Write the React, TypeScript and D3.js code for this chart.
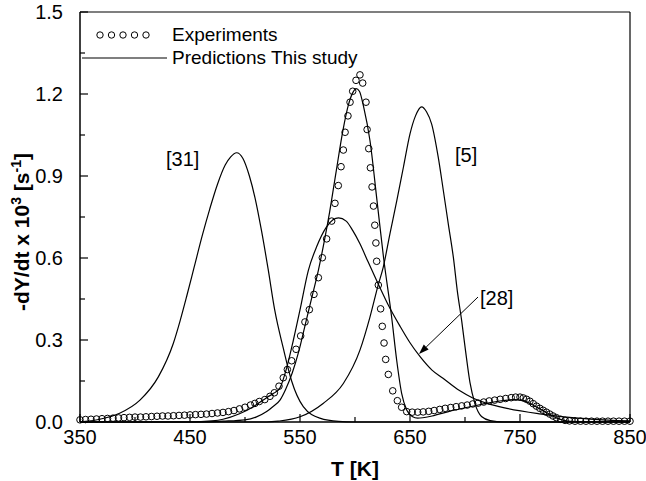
import React from 'react';
import * as d3 from 'd3';

// ---- axis ticks ----
const xTicks = [350, 450, 550, 650, 750, 850];
const xMinor = [400, 500, 600, 700, 800];
const yTicks = [0.0, 0.3, 0.6, 0.9, 1.2, 1.5];
const yMinor = [0.15, 0.45, 0.75, 1.05, 1.35];

// ---- experiments (circles) ----
const expT = [
  350, 355, 360, 365, 370, 375, 380, 385, 390, 395, 400, 405, 410, 415, 420, 425, 430, 435, 440, 445,
  450, 455, 460, 465, 470, 475, 480, 485, 490, 495, 500, 505, 509, 513, 518, 522.7, 526.7, 530.9, 534.8, 538.5,
  542.4, 546.4, 550.6, 554.5, 558.5, 562.7, 566.7, 570.3, 574.2, 578.8, 581.8, 584.8, 587.3, 589.4, 591, 593.6,
  595.5, 597.9, 600.9, 604.5, 607, 610, 611, 612.5, 614, 615.5, 616.8, 618, 619, 619.7, 621.2, 623.3, 624.8,
  626.4, 627.9, 630.3, 634.3, 638.5, 642.4, 647, 652, 657, 662, 667, 672, 677, 682, 687, 692, 697, 702, 707,
  712, 717, 722, 727, 732, 737, 742, 746, 750, 753, 756, 759, 762, 765, 768, 771, 774, 777, 780, 783, 787,
  791, 795, 800, 805, 810, 815, 820, 825, 830, 835, 840, 845, 850,
];
const expV = [
  0.008, 0.009, 0.01, 0.011, 0.012, 0.013, 0.014, 0.015, 0.016, 0.017, 0.018, 0.018, 0.019, 0.02, 0.021, 0.022,
  0.022, 0.023, 0.024, 0.025, 0.026, 0.027, 0.028, 0.029, 0.031, 0.033, 0.035, 0.038, 0.042, 0.048, 0.054, 0.062,
  0.068, 0.075, 0.082, 0.094, 0.107, 0.131, 0.162, 0.192, 0.224, 0.266, 0.315, 0.366, 0.411, 0.467, 0.528, 0.601,
  0.67, 0.735, 0.8, 0.865, 0.934, 0.995, 1.06, 1.12, 1.17, 1.21, 1.25, 1.27, 1.24, 1.17, 1.07, 1.0, 0.93, 0.86,
  0.79, 0.72, 0.655, 0.588, 0.501, 0.414, 0.35, 0.289, 0.229, 0.174, 0.114, 0.078, 0.054, 0.038, 0.036, 0.036,
  0.037, 0.039, 0.042, 0.046, 0.05, 0.053, 0.056, 0.059, 0.062, 0.066, 0.069, 0.073, 0.077, 0.08, 0.083, 0.086,
  0.089, 0.091, 0.091, 0.088, 0.083, 0.076, 0.067, 0.058, 0.05, 0.043, 0.036, 0.029, 0.022, 0.016, 0.01, 0.006,
  0.004, 0.003, 0.003, 0.003, 0.003, 0.003, 0.003, 0.003, 0.003, 0.003, 0.003, 0.003, 0.003,
];

// ---- predictions: this study ----
const studyT = [
  350, 460, 480, 500, 510, 519.7, 525, 531.8, 537, 543, 549, 555, 561, 566.7, 572, 577, 583, 589, 594, 598, 601,
  604, 608, 613.6, 620, 626, 633.3, 637.9, 642.4, 647, 652, 657, 670, 685, 700, 715, 730, 745, 752, 758, 765, 774,
  783, 792, 800, 850,
];
const studyV = [
  0, 0, 0.003, 0.008, 0.018, 0.038, 0.055, 0.08, 0.12, 0.18, 0.26, 0.36, 0.46, 0.555, 0.66, 0.77, 0.92, 1.066,
  1.16, 1.205, 1.22, 1.21, 1.15, 1.03, 0.81, 0.6, 0.384, 0.226, 0.105, 0.044, 0.02, 0.014, 0.022, 0.038, 0.052,
  0.065, 0.076, 0.082, 0.079, 0.07, 0.055, 0.035, 0.015, 0.004, 0.001, 0,
];

// ---- reference [31] ----
const r31T = [
  350, 355, 368, 386, 404.5, 421.2, 434.8, 441, 447, 454, 461, 468, 475, 482, 487, 492.4, 498, 504, 509, 515, 521,
  527, 534.8, 542.4, 553, 568, 585, 600, 850,
];
const r31V = [
  0, 0.002, 0.01, 0.032, 0.08, 0.165, 0.287, 0.37, 0.46, 0.57, 0.68, 0.78, 0.87, 0.94, 0.97, 0.985, 0.965, 0.9,
  0.822, 0.7, 0.56, 0.41, 0.27, 0.15, 0.056, 0.014, 0.002, 0, 0,
];

// ---- reference [28] ----
const r28T = [
  350, 450, 470, 480, 495, 507.6, 520, 526, 531.8, 538, 544, 550, 557.6, 565, 574, 580, 585, 592, 598, 604.5, 612,
  621, 630, 641, 650, 659, 670, 680, 695, 707, 720, 738, 768, 800, 830, 850,
];
const r28V = [
  0, 0, 0.004, 0.01, 0.03, 0.056, 0.09, 0.105, 0.125, 0.2, 0.3, 0.41, 0.555, 0.64, 0.713, 0.74, 0.747, 0.735, 0.7,
  0.652, 0.585, 0.506, 0.43, 0.35, 0.29, 0.24, 0.19, 0.16, 0.115, 0.088, 0.068, 0.05, 0.03, 0.015, 0.007, 0.004,
];

// ---- reference [5] ----
const r5T = [
  350, 520, 530, 550, 571, 589.4, 604.5, 613.6, 621, 625.7, 631.8, 638, 644, 650, 655, 660.6, 665, 669.7, 675.7,
  680.3, 684.8, 689.4, 693, 697, 700.5, 704.5, 709, 715, 723, 735, 850,
];
const r5V = [
  0, 0, 0.003, 0.019, 0.068, 0.141, 0.263, 0.384, 0.5, 0.567, 0.689, 0.81, 0.932, 1.054, 1.12, 1.153, 1.135, 1.09,
  0.968, 0.847, 0.725, 0.603, 0.48, 0.37, 0.26, 0.145, 0.068, 0.02, 0.005, 0, 0,
];

const W = 646;
const H = 481;
const L = 80;
const R = 630;
const T = 12;
const B = 422;

export default function App() {
  const x = d3.scaleLinear().domain([350, 850]).range([L, R]);
  const y = d3.scaleLinear().domain([0, 1.5]).range([B, T]);
  const line = d3
    .line<[number, number]>()
    .x((d) => x(d[0]))
    .y((d) => y(d[1]))
    .curve(d3.curveMonotoneX);
  const zip = (a: number[], b: number[]) => a.map((v, i) => [v, b[i]] as [number, number]);
  const curves = [
    zip(studyT, studyV),
    zip(r31T, r31V),
    zip(r28T, r28V),
    zip(r5T, r5V),
  ];
  const exp = zip(expT, expV);
  const font = 'Liberation Sans, Arial, sans-serif';

  // arrow
  const ax1 = 478, ay1 = 297, ax2 = 419, ay2 = 354;
  const ang = Math.atan2(ay2 - ay1, ax2 - ax1);
  const hl = 10, hw = 3.5;
  const bx = ax2 - hl * Math.cos(ang), by = ay2 - hl * Math.sin(ang);
  const head = `M${ax2},${ay2} L${bx + hw * Math.sin(ang)},${by - hw * Math.cos(ang)} L${bx - hw * Math.sin(ang)},${by + hw * Math.cos(ang)} Z`;

  const legendCircles = [100, 111.5, 123, 134.5, 146];

  return (
    <svg width={W} height={H} style={{ position: 'absolute', left: 0, top: 0, background: '#fff' }} fontFamily={font}>
      <rect x={0} y={0} width={W} height={H} fill="#fff" />
      {/* frame */}
      <line x1={L} y1={T} x2={R} y2={T} stroke="#000" strokeWidth={1.2} />
      <line x1={R} y1={T} x2={R} y2={B} stroke="#000" strokeWidth={1.2} />
      <line x1={L} y1={B} x2={R} y2={B} stroke="#000" strokeWidth={1.5} />
      <line x1={L} y1={T} x2={L} y2={B} stroke="#000" strokeWidth={1.5} />
      {/* x ticks */}
      {xTicks.map((t) => (
        <g key={'xt' + t}>
          <line x1={x(t)} x2={x(t)} y1={B} y2={B - 8} stroke="#000" strokeWidth={1.2} />
          <text x={x(t)} y={444} fontSize={20} textAnchor="middle">{t}</text>
        </g>
      ))}
      {xMinor.map((t) => (
        <line key={'xm' + t} x1={x(t)} x2={x(t)} y1={B} y2={B - 5} stroke="#000" strokeWidth={1.2} />
      ))}
      {/* y ticks */}
      {yTicks.map((t) => (
        <g key={'yt' + t}>
          <line x1={L} x2={L + 8} y1={y(t)} y2={y(t)} stroke="#000" strokeWidth={1.2} />
          <text x={63} y={y(t) + 7} fontSize={20} textAnchor="end">{t.toFixed(1)}</text>
        </g>
      ))}
      {yMinor.map((t) => (
        <line key={'ym' + t} x1={L} x2={L + 5} y1={y(t)} y2={y(t)} stroke="#000" strokeWidth={1.2} />
      ))}
      {/* axis titles */}
      <text x={355} y={476} fontSize={21} fontWeight="bold" textAnchor="middle">T [K]</text>
      <text transform={`translate(29,${232}) rotate(-90)`} fontSize={21} fontWeight="bold" textAnchor="middle">
        -dY/dt x 10<tspan dy={-8} fontSize={14}>3</tspan><tspan dy={8}> [s</tspan><tspan dy={-8} fontSize={14}>-1</tspan><tspan dy={8}>]</tspan>
      </text>
      {/* curves */}
      {curves.map((c, i) => (
        <path key={'c' + i} d={line(c) || ''} fill="none" stroke="#000" strokeWidth={1.2} />
      ))}
      {/* experiments */}
      {exp.map((d, i) => (
        <circle key={'e' + i} cx={x(d[0])} cy={y(d[1])} r={3.3} fill="none" stroke="#000" strokeWidth={1} />
      ))}
      {/* labels */}
      <text x={166} y={166} fontSize={20}>[31]</text>
      <text x={455} y={162} fontSize={20}>[5]</text>
      <text x={480} y={305} fontSize={20}>[28]</text>
      <line x1={ax1} y1={ay1} x2={bx} y2={by} stroke="#000" strokeWidth={1} />
      <path d={head} fill="#000" />
      {/* legend */}
      {legendCircles.map((cx, i) => (
        <circle key={'lc' + i} cx={cx} cy={35} r={3.2} fill="none" stroke="#000" strokeWidth={1} />
      ))}
      <text x={172} y={41} fontSize={19}>Experiments</text>
      <line x1={82} x2={167} y1={58} y2={58} stroke="#000" strokeWidth={1.2} />
      <text x={172} y={64} fontSize={19}>Predictions This study</text>
    </svg>
  );
}
